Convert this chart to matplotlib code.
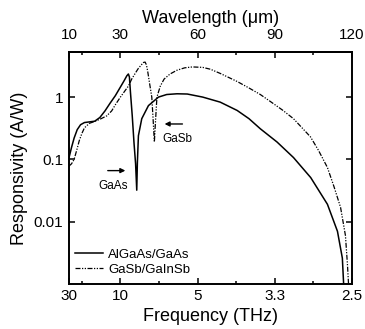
import numpy as np
import matplotlib
matplotlib.use("Agg")
import matplotlib.pyplot as plt

plt.rcParams["font.family"] = ["Liberation Sans", "DejaVu Sans"]

# AlGaAs/GaAs responsivity (A/W) vs wavelength (um)
algaas_wl = [10, 11, 12, 13.2, 14.5, 16, 18, 20, 22, 24, 26, 28, 30, 31.5,
             32.5, 33.1, 33.5, 33.9, 34.6, 35.3, 35.9, 36.35, 36.6, 37.0,
             38.3, 40.9, 44.8, 48, 52, 56, 62, 68.8, 75.4, 80, 84.4, 90.9,
             97.3, 104, 110.5, 114.4, 116.3, 116.8]
algaas_r = [0.106, 0.156, 0.22, 0.3, 0.36, 0.39, 0.40, 0.41, 0.47, 0.6, 0.8,
            1.05, 1.45, 1.85, 2.2, 2.35, 2.1, 1.2, 0.5, 0.18, 0.085, 0.032,
            0.09, 0.24, 0.45, 0.73, 1.0, 1.1, 1.13, 1.12, 1.0, 0.83, 0.61,
            0.45, 0.31, 0.19, 0.107, 0.051, 0.019, 0.007, 0.0026, 0.001]

# GaSb/GaInSb responsivity (A/W) vs wavelength (um)
gasb_wl = [10, 11, 12, 13, 14, 15, 16, 17, 18, 19.5, 22, 24.7, 26.6, 28, 30,
           32, 33.1, 34.4, 36, 37, 38.3, 39.0, 39.6, 40.1, 40.6, 41.3, 42.2,
           42.7, 43.2, 43.7, 44.2, 45.5, 47, 49.3, 52, 55, 58, 62, 65, 68.8,
           75.4, 80, 84.4, 88.3, 93, 97.3, 103.9, 107, 110.5, 113, 115.6,
           117.5, 118.3, 118.7]
gasb_r = [0.078, 0.085, 0.1, 0.14, 0.2, 0.26, 0.32, 0.35, 0.38, 0.40, 0.44,
          0.5, 0.6, 0.75, 1.0, 1.3, 1.5, 1.95, 2.5, 2.9, 3.35, 3.6, 3.65, 3.3,
          2.6, 1.7, 1.0, 0.45, 0.19, 0.45, 1.0, 1.5, 1.95, 2.35, 2.7, 2.95,
          3.05, 3.0, 2.8, 2.4, 1.78, 1.4, 1.1, 0.85, 0.62, 0.45, 0.23, 0.14,
          0.074, 0.037, 0.017, 0.006, 0.002, 0.001]

wl_ticks = [10, 30, 60, 90, 120]
wl_minor = [15, 45, 75, 105]
freq_labels = ["30", "10", "5", "3.3", "2.5"]
wl_labels = ["10", "30", "60", "90", "120"]

fig = plt.figure(figsize=(3.65, 3.29), dpi=100)
ax = fig.add_axes([0.189, 0.137, 0.775, 0.705])

ax.plot(algaas_wl, algaas_r, "-", color="black", linewidth=1.1,
        label="AlGaAs/GaAs")
ax.plot(gasb_wl, gasb_r, color="black", linewidth=0.9,
        linestyle=(0, (4, 1.2, 1, 1.2, 1, 1.2)), label="GaSb/GaInSb")

ax.set_yscale("log")
ax.set_xlim(10, 120)
ax.set_ylim(0.001, 5.3)

ax.set_yticks([0.01, 0.1, 1])
ax.set_yticklabels(["0.01", "0.1", "1"])
ax.yaxis.set_minor_locator(matplotlib.ticker.NullLocator())

ax.set_xticks(wl_ticks)
ax.set_xticklabels(freq_labels)
ax.set_xticks(wl_minor, minor=True)

ax.tick_params(which="both", direction="in", right=True, labelsize=11,
               width=1.1)
ax.tick_params(which="major", length=4.5, pad=4)
ax.tick_params(which="minor", length=2.5)
ax.tick_params(axis="x", which="both", top=False)
for sp in ax.spines.values():
    sp.set_linewidth(1.4)

top = ax.secondary_xaxis("top")
top.set_xticks(wl_ticks)
top.set_xticklabels(wl_labels)
top.set_xticks(wl_minor, minor=True)
top.tick_params(which="both", direction="in", labelsize=11, width=1.1,
                pad=7.5)
top.tick_params(which="major", length=4.5)
top.tick_params(which="minor", length=2.5)
top.spines["top"].set_linewidth(1.4)
top.set_xlabel("Wavelength (\u03bcm)", fontsize=13, labelpad=3)

ax.set_xlabel("Frequency (THz)", fontsize=13, labelpad=3)
ax.set_ylabel("Responsivity (A/W)", fontsize=13, labelpad=4)

# material band markers
ax.annotate("", xy=(33.0, 0.066), xytext=(24.0, 0.066),
            arrowprops=dict(arrowstyle="-|>", color="black", lw=1.0,
                            mutation_scale=7))
ax.text(27.1, 0.037, "GaAs", fontsize=8.5, ha="center", va="center")
ax.annotate("", xy=(46.1, 0.37), xytext=(55.2, 0.37),
            arrowprops=dict(arrowstyle="-|>", color="black", lw=1.0,
                            mutation_scale=7))
ax.text(52.0, 0.21, "GaSb", fontsize=8.5, ha="center", va="center")

ax.legend(loc="lower left", bbox_to_anchor=(0.021, 0.035), frameon=False,
          fontsize=9.5, borderpad=0, borderaxespad=0, handlelength=2.1,
          handletextpad=0.4, labelspacing=0.2)

fig.savefig("out.png", dpi=100)
